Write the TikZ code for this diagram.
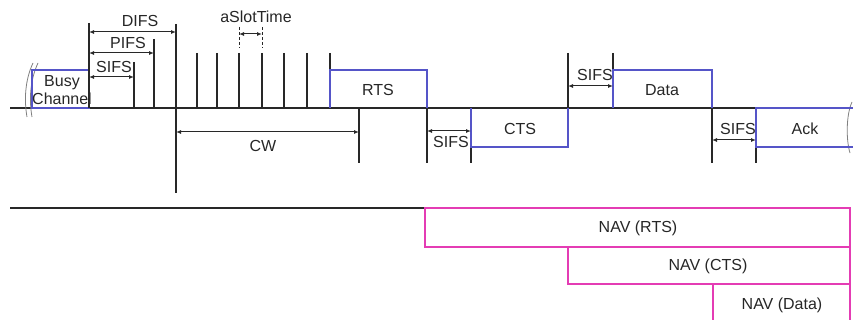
\documentclass[tikz,border=0pt]{standalone}
\usepackage{fontspec}
\setmainfont{Liberation Sans}
\usetikzlibrary{arrows.meta}
\definecolor{boxblue}{RGB}{85,85,200}
\definecolor{navpink}{RGB}{228,60,180}
\definecolor{linegray}{RGB}{40,40,40}
\begin{document}
\begin{tikzpicture}[x=1pt,y=-1pt,
  tline/.style={draw=linegray,line width=1.3pt},
  dim/.style={draw=linegray,line width=1pt,{Latex[length=5pt,width=4pt]}-{Latex[length=5pt,width=4pt]}},
  bbox/.style={draw=boxblue,line width=1.1pt},
  nbox/.style={draw=navpink,line width=1.1pt},
  lbl/.style={font=\fontsize{16}{19}\selectfont,inner sep=0pt,text=black!85},
  brk/.style={draw=gray,line width=0.8pt}]
\useasboundingbox (0,0) rectangle (853,320);
% baseline and NAV line
\coordinate (b0) at (10,108); \coordinate (b1) at (756,108);
\draw[tline] (b0) -- (b1);
\coordinate (n0) at (10,208); \coordinate (n1) at (425,208);
\draw[tline] (n0) -- (n1);
% break marks
\draw[brk] (33,63) .. controls (25,80) and (24,100) .. (27,117);
\draw[brk] (38,63) .. controls (30,80) and (29,100) .. (32,117);
\draw[brk] (852,102) .. controls (846,115) and (846,140) .. (850,153);
% busy channel
\draw[bbox] (32,70) rectangle (89,108);
\node[lbl,align=center] (busy) at (62,90) {Busy\\[-1pt]Channel};
% vertical timing lines
\foreach \x/\t/\b/\n in {89/23/108/v1,134/62/108/vs,154/39/108/vp,176/24/193/vd,
  197/53/108/s1,217/53/108/s2,239/53/108/s3,262/53/108/s4,284/53/108/s5,307/53/108/s6,
  330/53/108/vr,359/108/163/vc,427/108/163/vr2,471/108/163/vc2,568/53/108/vd1,613/53/108/vd2,
  712/108/163/va1,756/108/163/va2}{
  \coordinate (\n t) at (\x,\t); \coordinate (\n b) at (\x,\b);
  \draw[tline] (\n t) -- (\n b);
}
% frames
\draw[bbox] (330,108) -- (330,70) -- (427,70) -- (427,108);
\draw[bbox] (471,108) -- (471,147) -- (568,147) -- (568,108);
\draw[bbox] (613,108) -- (613,70) -- (712,70) -- (712,108);
\draw[bbox] (853,108) -- (756,108) -- (756,147) -- (853,147);
\node[lbl] (rts) at (378,90) {RTS};
\node[lbl] (cts) at (520,129) {CTS};
\node[lbl] (data) at (662,90) {Data};
\node[lbl] (ack) at (805,129) {Ack};
% dimension arrows
\coordinate (difsL) at (89,32); \coordinate (difsR) at (176,32);
\draw[dim] (difsL) -- (difsR);
\coordinate (pifsL) at (89,53); \coordinate (pifsR) at (154,53);
\draw[dim] (pifsL) -- (pifsR);
\coordinate (sifsL) at (89,77); \coordinate (sifsR) at (134,77);
\draw[dim] (sifsL) -- (sifsR);
\coordinate (cwL) at (176,132); \coordinate (cwR) at (359,132);
\draw[dim] (cwL) -- (cwR);
\coordinate (s2L) at (427,131); \coordinate (s2R) at (471,131);
\draw[dim] (s2L) -- (s2R);
\coordinate (s3L) at (568,86); \coordinate (s3R) at (613,86);
\draw[dim] (s3L) -- (s3R);
\coordinate (s4L) at (712,140); \coordinate (s4R) at (756,140);
\draw[dim] (s4L) -- (s4R);
% aSlotTime
\coordinate (asL) at (239,27); \coordinate (asLb) at (239,48);
\coordinate (asR) at (262,27); \coordinate (asRb) at (262,48);
\draw[draw=linegray,line width=1pt,dash pattern=on 3pt off 2pt] (asL) -- (asLb);
\draw[draw=linegray,line width=1pt,dash pattern=on 3pt off 2pt] (asR) -- (asRb);
\coordinate (asa) at (239,34); \coordinate (asb) at (262,34);
\draw[dim] (asa) -- (asb);
% labels
\node[lbl] (ldifs) at (140,21) {DIFS};
\node[lbl] (lpifs) at (128,43) {PIFS};
\node[lbl] (lsifs) at (114,67) {SIFS};
\node[lbl] (lslot) at (256,17) {aSlotTime};
\node[lbl] (lcw) at (263,146) {CW};
\node[lbl] (ls2) at (451,142) {SIFS};
\node[lbl] (ls3) at (595,75) {SIFS};
\node[lbl] (ls4) at (738,129) {SIFS};
% NAV
\draw[nbox] (425,208) rectangle (850,247);
\draw[nbox] (568,247) rectangle (850,284);
\draw[nbox] (713,322) -- (713,284) -- (850,284) -- (850,322);
\node[lbl] (nrts) at (638,228) {NAV (RTS)};
\node[lbl] (ncts) at (708,266) {NAV (CTS)};
\node[lbl] (ndata) at (782,305) {NAV (Data)};
\end{tikzpicture}
\end{document}
